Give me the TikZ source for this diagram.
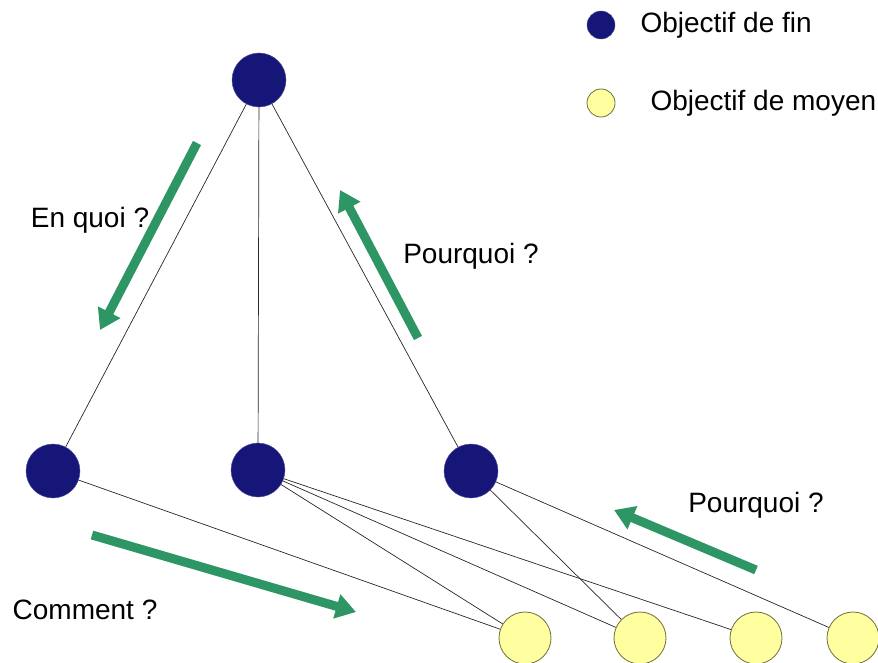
\documentclass[tikz,border=0pt]{standalone}
\usepackage{fontspec}
\setmainfont{Liberation Sans}
\usepackage{tikz}
\usetikzlibrary{arrows.meta}
\definecolor{bleufin}{RGB}{22,22,120}
\definecolor{jaunemoyen}{RGB}{255,255,160}
\definecolor{bordmoyen}{RGB}{110,110,60}
\definecolor{vertfleche}{RGB}{46,150,100}

\begin{document}
\begin{tikzpicture}[x=1pt,y=-1pt,
                    every node/.style={font=\fontsize{28}{32}\selectfont},
                    finnode/.style={circle,fill=bleufin,draw=bleufin!75!white,
                                    inner sep=0pt,minimum size=54pt},
                    moyennode/.style={circle,fill=jaunemoyen,draw=bordmoyen,
                                      line width=0.8pt,inner sep=0pt,minimum size=52pt},
                    lien/.style={draw=black!85,line width=0.7pt},
                    fleche/.style={draw=vertfleche,line width=9pt,
                                   -{Triangle[length=20pt,width=24pt]}}]
  \useasboundingbox (0,0) rectangle (878,663);
  % objectifs de fin
  \node[finnode] (haut) at (259,80) {};
  \node[finnode] (gauche) at (53,471) {};
  \node[finnode] (milieu) at (258,470) {};
  \node[finnode] (droite) at (471,471) {};
  % objectifs de moyen
  \node[moyennode] (m1) at (525,638) {};
  \node[moyennode] (m2) at (640,638) {};
  \node[moyennode] (m3) at (756,638) {};
  \node[moyennode] (m4) at (853,638) {};
  % liens
  \draw[lien] (haut) -- (gauche);
  \draw[lien] (haut) -- (milieu);
  \draw[lien] (haut) -- (droite);
  \draw[lien] (gauche) -- (m1);
  \foreach \m in {m1,m2,m3}
    \draw[lien] (milieu) -- (\m);
  \draw[lien] (droite) -- (m2);
  \draw[lien] (droite) -- (m4);
  % fleches
  \coordinate (a1) at (197,143);
  \coordinate (a2) at (100,330);
  \coordinate (b1) at (418,338);
  \coordinate (b2) at (340,190);
  \coordinate (c1) at (92,535);
  \coordinate (c2) at (356,612);
  \coordinate (d1) at (756,570);
  \coordinate (d2) at (614,510);
  \draw[fleche] (a1) -- (a2);
  \draw[fleche] (b1) -- (b2);
  \draw[fleche] (c1) -- (c2);
  \draw[fleche] (d1) -- (d2);
  \node (enquoi) at (90,220) {En quoi ?};
  \node (pourquoi1) at (471,256) {Pourquoi ?};
  \node (pourquoi2) at (756,505) {Pourquoi ?};
  \node (comment) at (85,610) {Comment ?};
  % legende
  \node[finnode,minimum size=28pt] (lfin) at (601,25) {};
  \node[anchor=west] (tfin) at (637,25) {Objectif de fin};
  \node[moyennode,minimum size=28pt] (lmoyen) at (601,103) {};
  \node[anchor=west] (tmoyen) at (647,103) {Objectif de moyen};
\end{tikzpicture}
\end{document}
